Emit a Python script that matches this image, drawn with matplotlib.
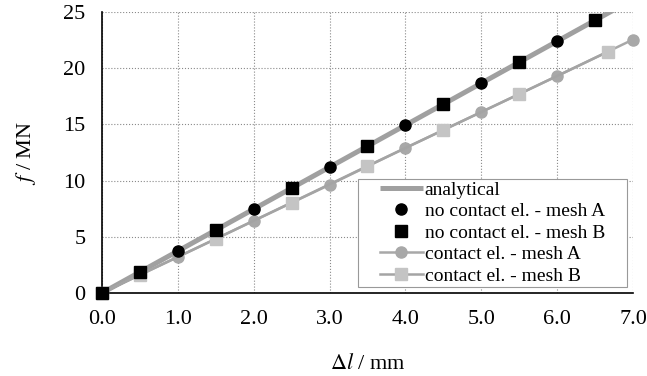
import matplotlib
matplotlib.use("Agg")
import matplotlib.pyplot as plt
from matplotlib.patches import Rectangle

# data
x_analytical = [0.0, 7.0]
y_analytical = [0.0, 26.13]

x_nc_A = [0, 1, 2, 3, 4, 5, 6]
y_nc_A = [0, 3.73, 7.47, 11.2, 14.93, 18.67, 22.4]

x_nc_B = [0, 0.5, 1.5, 2.5, 3.5, 4.5, 5.5, 6.5]
y_nc_B = [0, 1.87, 5.6, 9.33, 13.07, 16.8, 20.53, 24.3]

x_c_A = [0, 1, 2, 3, 4, 5, 6, 7]
y_c_A = [0, 3.2, 6.42, 9.63, 12.9, 16.1, 19.3, 22.55]

x_c_B = [0, 0.5, 1.5, 2.5, 3.5, 4.5, 5.5, 6.67]
y_c_B = [0, 1.62, 4.82, 8.05, 11.3, 14.5, 17.7, 21.47]

xticks = [0, 1, 2, 3, 4, 5, 6, 7]
xticklabels = ["0.0", "1.0", "2.0", "3.0", "4.0", "5.0", "6.0", "7.0"]
yticks = [0, 5, 10, 15, 20, 25]

plt.rcParams['font.family'] = ['Liberation Serif', 'DejaVu Serif']
plt.rcParams['mathtext.fontset'] = 'stix'

W, H = 647, 376
fig = plt.figure(figsize=(W / 100, H / 100), dpi=100)
ax = fig.add_axes([102 / W, 1 - 293 / H, (633 - 102) / W, (293 - 12) / H])

ax.plot(x_analytical, y_analytical, color='#a0a0a0', lw=3.6, label='analytical', zorder=3,
        solid_capstyle='butt')
ax.plot(x_nc_A, y_nc_A, 'o', color='black', ms=8, label='no contact el. - mesh A', zorder=5, clip_on=False)
ax.plot(x_nc_B, y_nc_B, 's', color='black', ms=8, label='no contact el. - mesh B', zorder=5, clip_on=False)
ax.plot(x_c_A, y_c_A, '-o', color='#a8a8a8', lw=1.8, ms=8, label='contact el. - mesh A', zorder=4,
        clip_on=False)
ax.plot(x_c_B, y_c_B, '-s', color='#a4a4a4', mfc='#c4c4c4', mec='#c4c4c4', lw=1.8, ms=8,
        label='contact el. - mesh B', zorder=4, clip_on=False)

ax.set_xlim(0, 7)
ax.set_ylim(0, 25)
ax.set_xticks(xticks)
ax.set_xticklabels(xticklabels)
ax.set_yticks(yticks)
ax.tick_params(axis='both', labelsize=16, length=0, pad=12)
ax.grid(True, color='#8a8a8a', ls=':', lw=0.8)
ax.set_axisbelow(True)
for s in ['top', 'right']:
    ax.spines[s].set_visible(False)
for s in ['left', 'bottom']:
    ax.spines[s].set_color('black')
    ax.spines[s].set_linewidth(1.2)

ax.set_xlabel(r'$\mathit{\Delta l}$ / mm', fontsize=16, labelpad=18)
ax.set_ylabel(r'$\mathit{f}$ / MN', fontsize=16, labelpad=18)

# legend with manually drawn frame
leg = ax.legend(loc='upper left', bbox_to_anchor=(380 / W, 1 - 181 / H), bbox_transform=fig.transFigure,
                fontsize=14, frameon=False, handlelength=2.2, handletextpad=0.1,
                borderpad=0.0, labelspacing=0.2, borderaxespad=0.0)
leg.set_zorder(7)
frame = Rectangle((358 / W, 1 - 287 / H), (627 - 358) / W, (287 - 179) / H, transform=fig.transFigure,
                  facecolor='white', edgecolor='#999999', lw=0.8, zorder=6)
fig.add_artist(frame)
fig.add_artist(leg)

fig.savefig('out.png', dpi=100)
